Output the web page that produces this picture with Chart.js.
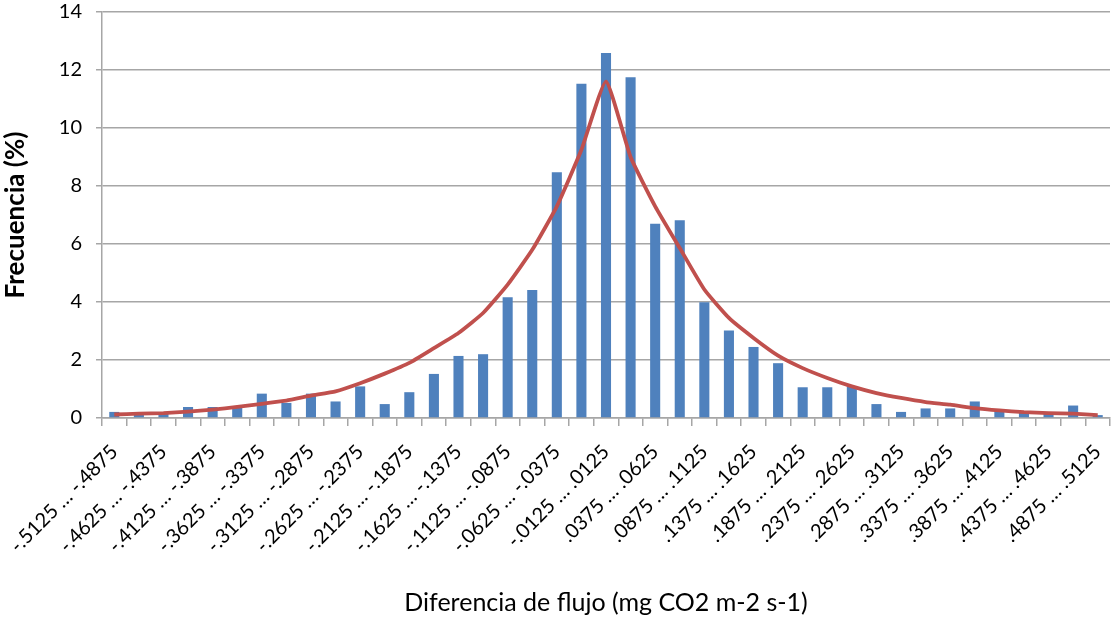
<!DOCTYPE html>
<html>
<head>
<meta charset="utf-8">
<script src="https://cdn.jsdelivr.net/npm/chart.js@4/dist/chart.umd.min.js"></script>
<style>
  html, body { margin: 0; padding: 0; background: #fff; }
  #wrap { width: 1112px; height: 622px; position: relative; }
</style>
</head>
<body>
<div id="wrap"><canvas id="histCanvas" width="1112" height="622"></canvas></div>
<script>
// bin lower and upper edges (shown as "lo … hi")
const binLow = ['-.5125','-.4875','-.4625','-.4375','-.4125','-.3875','-.3625','-.3375','-.3125','-.2875',
  '-.2625','-.2375','-.2125','-.1875','-.1625','-.1375','-.1125','-.0875','-.0625','-.0375',
  '-.0125','.0125','.0375','.0625','.0875','.1125','.1375','.1625','.1875','.2125',
  '.2375','.2625','.2875','.3125','.3375','.3625','.3875','.4125','.4375','.4625','.4875'];
const binHigh = ['-.4875','-.4625','-.4375','-.4125','-.3875','-.3625','-.3375','-.3125','-.2875','-.2625',
  '-.2375','-.2125','-.1875','-.1625','-.1375','-.1125','-.0875','-.0625','-.0375','-.0125',
  '.0125','.0375','.0625','.0875','.1125','.1375','.1625','.1875','.2125','.2375',
  '.2625','.2875','.3125','.3375','.3625','.3875','.4125','.4375','.4625','.4875','.5125'];

// observed frequency (%)
const frequency = [0.21, 0.17, 0.17, 0.38, 0.38, 0.35, 0.84, 0.52, 0.84, 0.57,
  1.09, 0.48, 0.89, 1.52, 2.14, 2.20, 4.16, 4.41, 8.47, 11.53,
  12.59, 11.75, 6.70, 6.82, 3.99, 3.02, 2.45, 1.89, 1.06, 1.06,
  1.10, 0.48, 0.21, 0.33, 0.33, 0.57, 0.30, 0.20, 0.15, 0.43, 0.10];

// fitted distribution (%)
const fitted = [0.12, 0.15, 0.17, 0.22, 0.29, 0.38, 0.49, 0.60, 0.77, 0.92,
  1.20, 1.53, 1.90, 2.41, 2.93, 3.62, 4.60, 5.80, 7.30, 9.25,
  11.60, 9.00, 7.30, 5.86, 4.43, 3.45, 2.76, 2.15, 1.72, 1.38,
  1.09, 0.86, 0.69, 0.55, 0.46, 0.34, 0.26, 0.20, 0.17, 0.15, 0.10];

const labels = binLow.map((lo, i) => lo + ' … ' + binHigh[i]);

const fontFamily = 'Lato, "Open Sans", sans-serif';
const gridGray = '#a6a6a6';

const ctx = document.getElementById('histCanvas').getContext('2d');
new Chart(ctx, {
  type: 'bar',
  data: {
    labels: labels,
    datasets: [
      {
        type: 'line',
        data: fitted,
        borderColor: '#c0504d',
        borderWidth: 3.8,
        pointRadius: 0,
        tension: 0.15,
        fill: false,
        order: 0
      },
      {
        type: 'bar',
        data: frequency,
        backgroundColor: '#4f81bd',
        barPercentage: 0.41,
        categoryPercentage: 1.0,
        order: 1
      }
    ]
  },
  options: {
    responsive: false,
    animation: false,
    layout: { padding: { top: 12, right: 2, bottom: 4, left: 0 } },
    plugins: { legend: { display: false }, tooltip: { enabled: false } },
    scales: {
      x: {
        grid: {
          offset: true,
          drawOnChartArea: false,
          color: gridGray,
          lineWidth: 1.5,
          tickLength: 8
        },
        border: { color: gridGray, width: 1.5 },
        ticks: {
          autoSkip: false,
          maxRotation: 45,
          minRotation: 45,
          padding: 14,
          color: '#000',
          font: { family: fontFamily, size: 20 },
          callback: function (value, index) {
            return index % 2 === 0 ? this.getLabelForValue(value) : '';
          }
        },
        title: {
          display: true,
          text: 'Diferencia de flujo (mg CO2 m-2 s-1)',
          color: '#000',
          font: { family: fontFamily, size: 25 },
          padding: { top: 10, bottom: 0 }
        },
        afterFit: (scale) => {
          scale.height = 200;
          scale.paddingLeft = 0;
          scale.paddingRight = 0;
        }
      },
      y: {
        min: 0,
        max: 14,
        ticks: {
          stepSize: 2,
          color: '#000',
          padding: 14,
          font: { family: fontFamily, size: 20 }
        },
        grid: { color: gridGray, lineWidth: 1.5, tickLength: 6 },
        border: { color: gridGray, width: 1.5 },
        title: {
          display: true,
          text: 'Frecuencia (%)',
          color: '#000',
          padding: { top: 0, bottom: 4 },
          font: { family: fontFamily, size: 26, weight: 'bold' }
        },
        afterFit: (scale) => {
          scale.width = 102;
          scale.paddingTop = 0;
          scale.paddingBottom = 0;
        }
      }
    }
  }
});
</script>
</body>
</html>
